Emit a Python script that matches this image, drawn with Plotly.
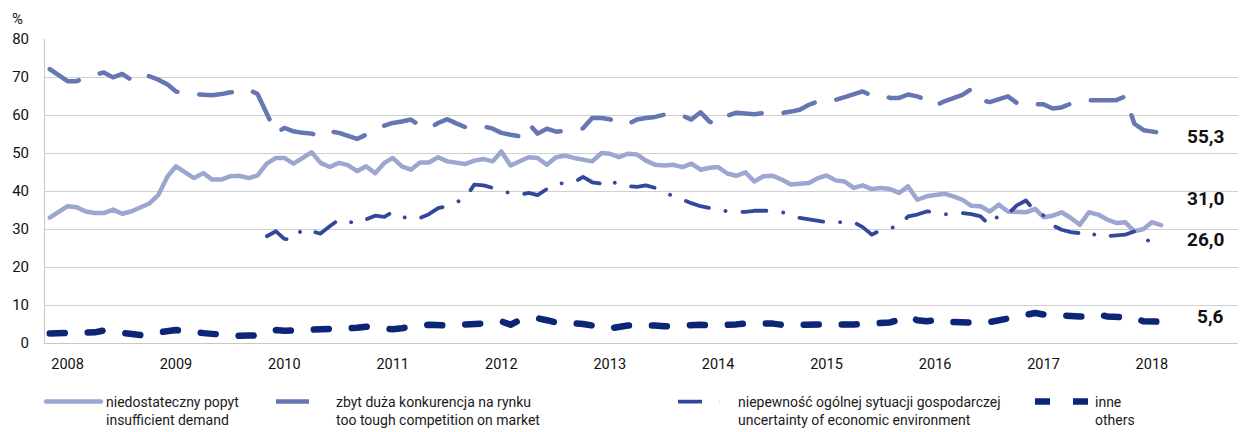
import pandas as pd
import plotly.graph_objects as go

# Monthly survey results, January 2008 - April 2018 (share of firms, %)
months = pd.date_range("2008-01-01", periods=124, freq="MS")
years = list(range(2008, 2019))

demand = [
    33.0, 34.6, 36.0, 35.7, 34.6, 34.2, 34.2, 35.1, 34.0, 34.6, 35.7, 36.7,
    39.0, 43.9, 46.5, 44.9, 43.4, 44.7, 43.0, 43.0, 43.9, 44.0, 43.4, 44.1,
    47.2, 48.7, 48.7, 47.2, 48.7, 50.2, 47.4, 46.3, 47.4, 46.8, 45.2, 46.5,
    44.7, 47.4, 48.7, 46.5, 45.6, 47.5, 47.5, 48.9, 47.8, 47.4, 47.1, 48.0,
    48.4, 47.8, 50.4, 46.7, 47.8, 48.9, 48.7, 46.9, 48.9, 49.3, 48.7, 48.4,
    47.8, 50.0, 49.8, 48.9, 49.8, 49.6, 48.0, 46.9, 46.7, 46.9, 46.3, 47.2,
    45.6, 46.1, 46.3, 44.6, 44.0, 44.9, 42.5, 43.9, 44.0, 43.0, 41.7, 41.9,
    42.1, 43.4, 44.1, 42.8, 42.5, 40.8, 41.5, 40.5, 40.8, 40.5, 39.5, 41.2,
    37.7, 38.6, 38.9, 39.3, 38.6, 37.7, 36.1, 36.0, 34.6, 36.4, 34.6, 34.4,
    34.4, 35.3, 33.1, 33.5, 34.4, 32.9, 31.1, 34.4, 33.8, 32.5, 31.6, 31.8,
    29.4, 30.0, 31.8, 31.0,
]

competition = [
    72.1, 70.6, 68.9, 68.9, 69.9, 70.6, 71.2, 69.9, 70.8, 69.3, 70.9, 70.2,
    69.3, 68.0, 66.2, 65.6, 65.5, 65.4, 65.2, 65.5, 66.0, 66.0, 66.7, 65.5,
    60.5, 55.2, 56.6, 55.7, 55.3, 55.1, 54.4, 55.7, 55.3, 54.5, 53.7, 54.8,
    56.6, 57.2, 57.9, 58.3, 58.8, 57.2, 56.4, 57.9, 58.9, 57.8, 56.8, 57.2,
    57.0, 56.4, 55.3, 54.8, 54.4, 57.7, 55.1, 56.4, 55.6, 55.8, 56.1, 56.5,
    59.2, 59.2, 58.9, 57.9, 57.6, 58.8, 59.2, 59.5, 60.1, 60.4, 59.8, 58.8,
    60.7, 58.2, 57.6, 59.8, 60.6, 60.4, 60.2, 60.5, 60.5, 60.5, 60.9, 61.4,
    62.7, 63.6, 63.9, 64.0, 64.7, 65.5, 66.2, 65.1, 65.3, 64.5, 64.5, 65.4,
    64.9, 64.0, 62.4, 63.6, 64.5, 65.3, 66.8, 64.0, 63.4, 64.0, 64.9, 63.2,
    62.5, 62.8, 62.8, 61.7, 62.0, 63.0, 63.6, 63.9, 63.9, 63.9, 63.9, 64.9,
    57.7, 56.0, 55.7, 55.3,
]

uncertainty = [None] * 24 + [
    28.1, 29.4, 27.4, 27.2, 30.0, 29.4, 28.8, 30.7, 32.5, 32.0, 31.4, 32.5,
    33.5, 33.2, 34.5, 33.3, 32.5, 32.9, 33.9, 35.5, 36.0, 37.0, 38.2, 41.7,
    41.5, 40.8, 39.9, 39.5, 39.0, 39.5, 38.9, 40.5, 41.9, 42.1, 42.3, 43.7,
    42.3, 41.9, 43.0, 41.5, 41.2, 41.1, 41.5, 40.8, 39.6, 38.6, 37.7, 36.8,
    36.0, 35.5, 35.4, 34.6, 34.5, 34.5, 34.8, 34.9, 34.8, 34.5, 33.5, 32.9,
    32.5, 32.0, 31.8, 31.8, 31.8, 31.8, 30.5, 28.5, 29.8, 30.1, 31.1, 33.3,
    33.8, 34.6, 34.5, 33.9, 33.9, 34.2, 33.9, 33.3, 31.0, 33.6, 34.0, 36.2,
    37.5, 34.6, 33.6, 30.9, 29.8, 29.2, 28.9, 29.4, 27.9, 28.1, 28.1, 28.5,
    29.4, 28.1, 26.0, None,
]

others = [
    2.5, 2.5, 2.5, 2.5, 2.4, 2.8, 3.3, 3.0, 2.5, 2.3, 2.1, 2.5,
    2.7, 3.1, 3.4, 3.1, 2.7, 2.6, 2.4, 2.2, 1.9, 1.9, 2.0, 2.0,
    2.8, 3.4, 3.2, 3.3, 3.3, 3.3, 3.3, 3.4, 3.6, 3.8, 4.0, 4.3,
    4.0, 3.5, 3.6, 3.9, 4.4, 4.6, 4.8, 4.6, 4.6, 4.7, 4.8, 4.9,
    5.0, 5.3, 5.7, 4.8, 6.0, 6.3, 6.5, 6.0, 5.4, 5.3, 5.3, 5.0,
    4.6, 3.9, 3.8, 4.4, 4.6, 4.6, 4.8, 4.6, 4.4, 4.6, 4.8, 4.8,
    4.8, 4.6, 4.6, 4.6, 4.9, 5.1, 5.2, 5.4, 5.1, 4.8, 4.8, 4.7,
    4.5, 4.5, 4.6, 4.6, 4.8, 4.9, 5.0, 5.0, 5.1, 5.4, 6.1, 7.0,
    6.0, 5.7, 6.0, 6.1, 5.5, 5.3, 5.3, 5.3, 5.5, 5.9, 6.3, 6.8,
    7.5, 7.9, 7.5, 7.3, 7.5, 7.2, 7.0, 7.0, 7.5, 7.0, 6.8, 6.8,
    6.6, 5.7, 5.5, 5.6,
]

names = [
    "niedostateczny popyt<br>insufficient demand",
    "zbyt duża konkurencja na rynku<br>too tough competition on market",
    "niepewność ogólnej sytuacji gospodarczej<br>uncertainty of economic environment",
    "inne<br>others",
]
series = [demand, competition, uncertainty, others]

FONT = "Roboto"
colors = ["#9ba6d1", "#6576b2", "#34489b", "#0b2577"]
widths = [4.5, 4.5, 3.8, 6.5]
dashes = ["solid", "33px,22px", "24px,17px,0.1px,17px", "15px,23px"]
legend_ids = ["legend", "legend2", "legend3", "legend4"]
legend_left_px = [41, 271, 673, 1030]
label_shift = [27, -4, 5, 5]   # demand, competition, uncertainty, others

M_L, M_R, M_T, M_B = 45, 2, 39, 89
W, H = 1240, 432
plot_w = W - M_L - M_R
plot_h = H - M_T - M_B


def px_to_paper_x(px):
    return (px - M_L) / plot_w


def px_to_paper_y(py):
    return (H - M_B - py) / plot_h


fig = go.Figure()
for vals, name, col, w, d, lg in zip(series, names, colors, widths, dashes, legend_ids):
    fig.add_trace(go.Scatter(
        x=months, y=vals, name=name, mode="lines",
        line=dict(color=col, width=w, dash=d),
        connectgaps=False, legend=lg, hoverinfo="skip",
    ))

# value labels for the latest month
for vals, shift in zip(series, label_shift):
    last = [v for v in vals if v is not None][-1]
    fig.add_annotation(
        xref="paper", yref="y", x=px_to_paper_x(1226), y=last,
        xanchor="right", yanchor="middle", yshift=shift, showarrow=False,
        text="<b>" + f"{last:.1f}".replace(".", ",") + "</b>",
        font=dict(family=FONT, size=19, color="#111111"),
    )

fig.add_annotation(
    xref="paper", yref="paper", x=px_to_paper_x(10), y=px_to_paper_y(19),
    xanchor="left", yanchor="middle", showarrow=False, text="%",
    font=dict(family=FONT, size=15, color="#111111"),
)

legend_common = dict(
    orientation="h", yanchor="top", y=px_to_paper_y(386), xanchor="left",
    valign="top", itemwidth=55, bgcolor="rgba(0,0,0,0)", borderwidth=0,
    font=dict(family=FONT, size=14, color="#1a1a1a"),
)
legends = {}
for lg, lx in zip(legend_ids, legend_left_px):
    legends[lg] = dict(legend_common, x=px_to_paper_x(lx))

fig.update_layout(
    width=W, height=H,
    margin=dict(l=M_L, r=M_R, t=M_T, b=M_B, autoexpand=False),
    paper_bgcolor="white", plot_bgcolor="white",
    font=dict(family=FONT, size=15, color="#111111"),
    showlegend=True,
    xaxis=dict(
        range=["2007-12-16", "2018-12-16"],
        tickvals=[f"{y}-03-01" for y in years],
        ticktext=[str(y) for y in years],
        showgrid=False, zeroline=False,
        showline=True, linecolor="#c8c8c8", linewidth=1,
        ticks="", ticklabelstandoff=8,
        tickfont=dict(family=FONT, size=14.5, color="#111111"),
    ),
    yaxis=dict(
        range=[0, 80], dtick=10, tick0=0,
        showgrid=True, gridcolor="#d0d0d0", gridwidth=1,
        zeroline=False, showline=True, linecolor="#c8c8c8", linewidth=1,
        ticks="", ticklabelstandoff=12,
        tickfont=dict(family=FONT, size=15, color="#111111"),
    ),
    **legends,
)

# rounded caps and joins for the line strokes
round_caps = """
var gd = document.getElementById('{plot_id}');
function roundCaps() {
  gd.querySelectorAll('.scatterlayer path.js-line, .legend path.js-line').forEach(function (p) {
    p.style.strokeLinecap = 'round';
    p.style.strokeLinejoin = 'round';
  });
}
roundCaps();
gd.on('plotly_afterplot', roundCaps);
"""

fig.write_html("out.html", post_script=round_caps)
